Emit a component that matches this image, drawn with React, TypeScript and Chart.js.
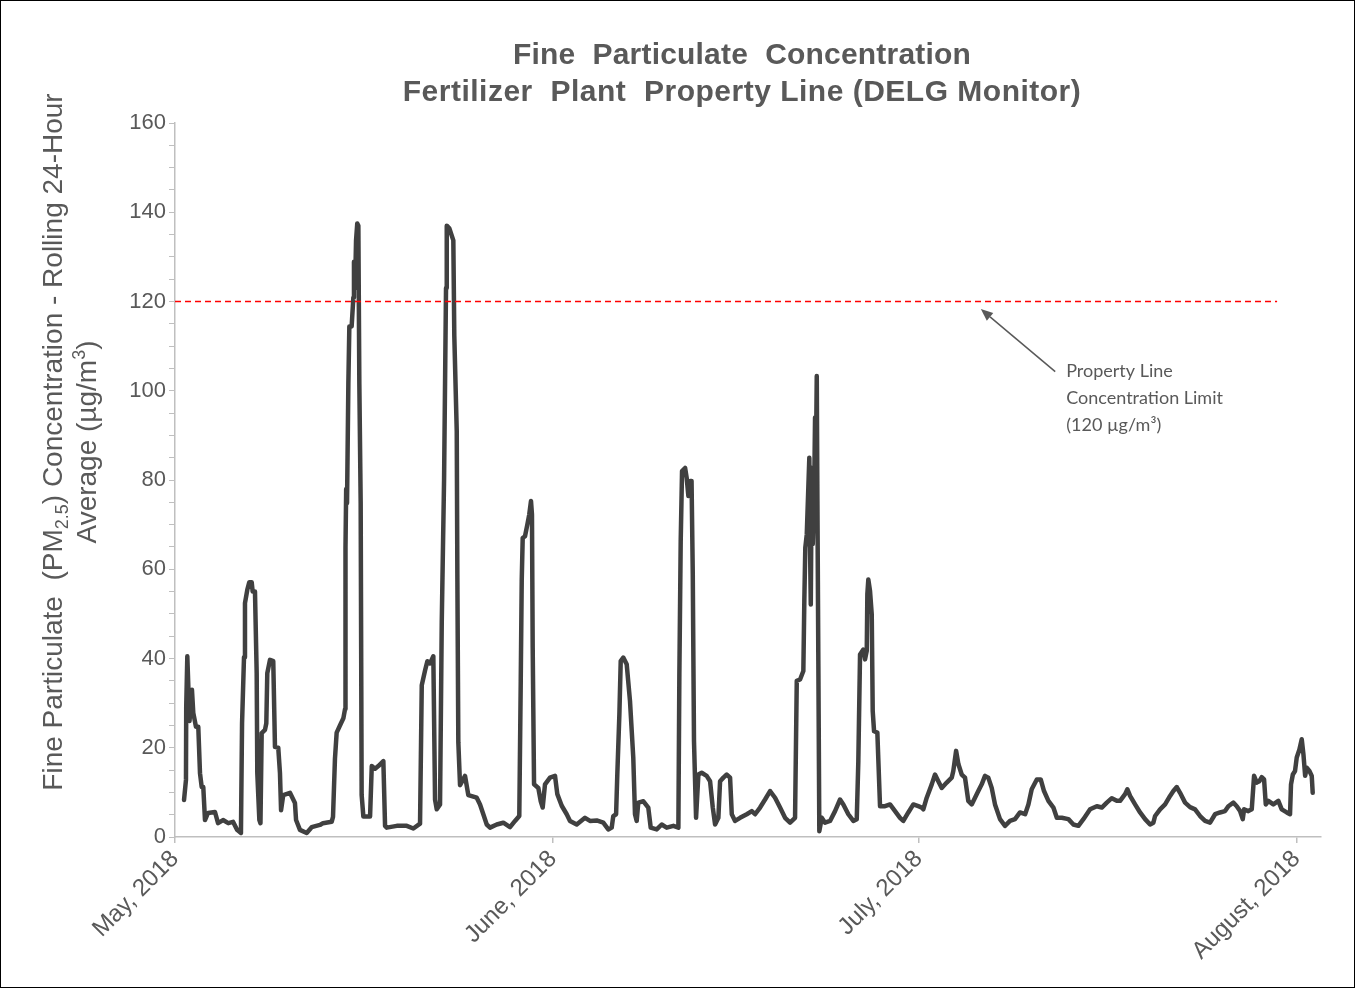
import React, { useEffect, useRef } from "react";
import { Chart, registerables } from "chart.js";

Chart.register(...registerables);

// ---------- data ----------
const chartTitle = ["Fine  Particulate  Concentration", "Fertilizer  Plant  Property Line (DELG Monitor)"];
const yTitleLine1 = [
  { text: "Fine Particulate  (PM", kind: "normal" },
  { text: "2.5", kind: "sub" },
  { text: ") Concentration - Rolling 24-Hour", kind: "normal" },
];
const yTitleLine2 = [
  { text: "Average (µg/m", kind: "normal" },
  { text: "3", kind: "sup" },
  { text: ")", kind: "normal" },
];
const monthTickDays = [0, 31, 61, 92];
const monthTickLabels = ["May, 2018", "June, 2018", "July, 2018", "August, 2018"];
const yMin = 0;
const yMax = 160;
const yMinorStep = 5;
const yMajorStep = 20;
const xMaxDay = 94;

const limitValue = 120;
const limitDays = [0, 90.4];
const annotationLines = ["Property Line", "Concentration Limit", "(120 µg/m³)"];
const arrowTip = { day: 66.1, value: 118.3 };
const arrowTail = { day: 72.2, value: 104.3 };
const annotationAnchor = { day: 73.1, value: 104.3 };

// days since May 1, 2018 (rolling 24-hour average, µg/m³)
const days = [
  0.74, 0.9, 0.92, 1.01, 1.19, 1.39, 1.5, 1.72, 1.91, 2.05,
  2.19, 2.32, 2.46, 2.71, 3.28, 3.53, 3.94, 4.37, 4.76, 5.09,
  5.41, 5.5, 5.66, 5.74, 5.93, 6.09, 6.29, 6.37, 6.56, 6.7,
  6.75, 6.92, 7.01, 7.11, 7.38, 7.49, 7.57, 7.79, 8.06, 8.2,
  8.47, 8.61, 8.7, 8.88, 9.43, 9.84, 9.93, 10.25, 10.8, 11.21,
  11.89, 12.14, 12.85, 12.96, 13.12, 13.26, 13.53, 13.81, 13.95, 13.97,
  14.0, 14.04, 14.11, 14.22, 14.3, 14.49, 14.63, 14.68, 14.77, 14.85,
  14.95, 15.04, 15.12, 15.23, 15.31, 15.45, 16.0, 16.14, 16.41, 16.68,
  17.09, 17.23, 17.37, 18.19, 19.01, 19.55, 20.1, 20.24, 20.51, 20.7,
  20.92, 21.19, 21.33, 21.47, 21.74, 21.88, 22.07, 22.23, 22.29, 22.5,
  22.83, 22.91, 23.11, 23.16, 23.24, 23.38, 23.79, 24.06, 24.75, 25.02,
  25.29, 25.57, 25.84, 26.39, 26.93, 27.48, 27.89, 28.24, 28.36, 28.44,
  28.52, 28.71, 28.9, 29.06, 29.2, 29.28, 29.34, 29.45, 29.8, 30.0,
  30.16, 30.35, 30.76, 31.17, 31.36, 31.72, 32.13, 32.4, 32.95, 33.63,
  34.04, 34.59, 35.13, 35.54, 35.82, 35.95, 36.18, 36.28, 36.45, 36.56,
  36.77, 37.05, 37.32, 37.59, 37.73, 37.87, 38.0, 38.42, 38.82, 39.02,
  39.51, 39.92, 40.33, 40.88, 41.29, 41.37, 41.48, 41.59, 41.84, 41.97,
  42.11, 42.25, 42.37, 42.47, 42.57, 42.74, 42.93, 43.2, 43.61, 43.89,
  44.11, 44.3, 44.57, 44.71, 44.98, 45.26, 45.53, 45.67, 45.94, 46.35,
  46.9, 47.31, 47.58, 47.99, 48.4, 48.81, 49.22, 49.63, 50.04, 50.45,
  50.86, 51.0, 51.27, 51.54, 51.62, 51.7, 51.82, 52.03, 52.09, 52.15,
  52.23, 52.31, 52.42, 52.5, 52.57, 52.64, 52.69, 52.77, 52.85, 53.05,
  53.32, 53.73, 54.14, 54.55, 54.82, 55.23, 55.64, 55.92, 56.05, 56.19,
  56.46, 56.6, 56.74, 56.79, 56.87, 57.01, 57.15, 57.23, 57.34, 57.61,
  57.83, 58.24, 58.65, 59.06, 59.47, 59.74, 60.15, 60.56, 60.97, 61.25,
  61.38, 61.66, 62.07, 62.34, 62.61, 62.89, 63.3, 63.71, 63.84, 64.07,
  64.26, 64.53, 64.8, 65.07, 65.35, 65.62, 65.89, 66.17, 66.44, 66.71,
  66.99, 67.26, 67.67, 68.08, 68.49, 68.9, 69.31, 69.73, 70.0, 70.27,
  70.69, 71.01, 71.28, 71.64, 72.05, 72.33, 72.74, 73.28, 73.69, 74.1,
  74.51, 75.06, 75.61, 76.02, 76.43, 76.84, 77.25, 77.52, 77.93, 78.12,
  78.34, 78.75, 79.16, 79.57, 79.98, 80.25, 80.39, 80.8, 81.21, 81.62,
  81.89, 82.17, 82.44, 82.85, 83.26, 83.67, 84.08, 84.49, 84.9, 85.31,
  85.72, 86.13, 86.4, 86.81, 87.09, 87.36, 87.58, 87.69, 88.04, 88.32,
  88.51, 88.73, 88.95, 89.14, 89.33, 89.47, 89.68, 90.09, 90.5, 90.78,
  91.19, 91.46, 91.54, 91.69, 91.87, 92.01, 92.23, 92.42, 92.56, 92.7,
  92.83, 93.05, 93.24, 93.32,
];

const pm25 = [
  8.3, 12.8, 29, 40.5, 26, 33, 27.8, 24.7, 24.7, 14.3,
  11.2, 11.2, 3.8, 5.4, 5.6, 3.1, 3.8, 3.1, 3.4, 1.6,
  0.9, 25.5, 40.3, 52.4, 55.4, 57.1, 57.1, 55, 55, 36.7,
  14.3, 3.8, 3.1, 23.3, 24, 25.5, 36.7, 39.7, 39.4, 20.2,
  20, 14.3, 6, 9.4, 9.9, 7.6, 3.8, 1.6, 0.9, 2.2,
  2.7, 3.1, 3.4, 4.5, 17.5, 23.4, 25, 26.6, 28.7, 58.7,
  65, 78, 74.8, 101.6, 114.4, 114.4, 120.9, 128.9, 123, 133.7,
  137.5, 137, 101.6, 74.8, 9.4, 4.6, 4.6, 15.9, 15.3, 15.9,
  17, 2.5, 2.1, 2.5, 2.5, 1.9, 3, 34, 37.3, 39.4,
  38.9, 40.5, 8.4, 6.2, 7.3, 48, 80, 123, 137, 136.4,
  133.7, 112.3, 90.9, 58.7, 21.2, 11.6, 13.7, 9.4, 8.8, 7.3,
  5.1, 2.8, 2.1, 2.8, 3.2, 2.2, 3.6, 4.7, 35, 57.4,
  67, 67.4, 70, 72.3, 75.3, 72.3, 42.4, 11.8, 11, 8,
  6.6, 11.8, 13.3, 13.7, 9.6, 7, 5.1, 3.6, 2.8, 4.3,
  3.6, 3.7, 3.2, 1.7, 2.1, 4.7, 5.1, 14, 27.5, 39.4,
  40.2, 38.7, 30.5, 17.8, 5.1, 3.6, 7.7, 8, 6.6, 2.1,
  1.7, 2.8, 2.1, 2.5, 2.1, 36.4, 66.3, 82, 82.7, 80.5,
  76.4, 79.8, 79.8, 58.9, 21.5, 4.3, 14, 14.4, 13.7, 12.5,
  6.6, 2.8, 4.3, 12.5, 13.3, 14, 13.3, 5.1, 3.6, 4.3,
  5.1, 5.8, 5.1, 6.6, 8.4, 10.3, 8.8, 6.6, 4.3, 3.2,
  4.3, 35, 35.3, 37.2, 52.9, 64.8, 67.8, 85, 64.8, 52.1,
  82.7, 65.6, 75.3, 94, 84.2, 103.3, 76.8, 39.4, 1.3, 4.3,
  3.2, 3.6, 5.8, 8.4, 7.3, 5.1, 3.6, 4, 17, 40.9,
  42, 39.8, 41.7, 54.4, 57.7, 55.1, 49.9, 28.2, 23.7, 23.4,
  6.9, 6.9, 7.3, 5.8, 4.3, 3.6, 5.5, 7.3, 6.9, 6.6,
  6.2, 8.8, 11.8, 14, 12.5, 11, 12.2, 13.3, 14.8, 19.3,
  16.3, 14, 13.3, 8.1, 7.3, 8.8, 10.3, 11.8, 13.7, 13.3,
  11, 7.3, 4, 2.5, 3.6, 4, 5.5, 5.1, 7.3, 10.7,
  12.9, 12.9, 10.3, 8.1, 6.6, 4.3, 4.3, 4, 2.8, 2.5,
  4, 6.2, 6.9, 6.6, 7.7, 8.7, 8.1, 8.1, 9.6, 10.7,
  9.2, 7.3, 5.5, 4, 2.8, 3.2, 4.7, 6.2, 7.3, 9.2,
  10.3, 11.2, 9.9, 7.7, 6.7, 6.2, 4.7, 3.6, 3.2, 5.1,
  5.5, 5.8, 6.9, 7.7, 6.9, 5.8, 4, 6.2, 5.8, 6.2,
  13.7, 12.2, 12.5, 13.4, 12.9, 7.3, 8.1, 7.3, 8.1, 6.2,
  5.5, 5.1, 11.8, 14, 14.8, 17.8, 19.6, 21.9, 18.5, 13.7,
  15.5, 14.8, 13.7, 9.9,
];

// ---------- styles ----------
const TEXT_GRAY = "#595959";
const AXIS_GRAY = "#bfbfbf";
const SANS = "'Liberation Sans', Arial, sans-serif";

const framePlugin = {
  id: "frame",
  beforeDraw(chart: any) {
    const ctx = chart.ctx;
    ctx.save();
    ctx.fillStyle = "#ffffff";
    ctx.fillRect(0, 0, chart.width, chart.height);
    ctx.restore();
  },
  afterDraw(chart: any) {
    const ctx = chart.ctx;
    ctx.save();
    ctx.strokeStyle = "#000000";
    ctx.lineWidth = 1;
    ctx.strokeRect(0.5, 0.5, chart.width - 2, chart.height - 2);
    ctx.restore();
  },
};

const titlePlugin = {
  id: "customTitle",
  afterDraw(chart: any) {
    const ctx = chart.ctx;
    const cx = (chart.chartArea.left + chart.chartArea.right) / 2 - 6;
    ctx.save();
    ctx.fillStyle = TEXT_GRAY;
    ctx.font = `bold 30px ${SANS}`;
    ctx.textAlign = "center";
    ctx.textBaseline = "alphabetic";
    ctx.letterSpacing = "0.2px";
    ctx.fillText(chartTitle[0], cx, 64);
    ctx.letterSpacing = "0.5px";
    ctx.fillText(chartTitle[1], cx, 101);
    ctx.restore();
  },
};

function drawRichRotated(ctx: any, segs: any[], baseX: number, centerY: number, size: number) {
  const small = Math.round(size * 0.64);
  const fontFor = (k: string) => `${k === "normal" ? size : small}px ${SANS}`;
  let total = 0;
  const widths = segs.map((s) => {
    ctx.font = fontFor(s.kind);
    const w = ctx.measureText(s.text).width;
    total += w;
    return w;
  });
  ctx.save();
  ctx.translate(baseX, centerY);
  ctx.rotate(-Math.PI / 2);
  ctx.textAlign = "left";
  ctx.textBaseline = "alphabetic";
  let x = -total / 2;
  segs.forEach((s, i) => {
    ctx.font = fontFor(s.kind);
    const dy = s.kind === "sub" ? size * 0.2 : s.kind === "sup" ? -size * 0.4 : 0;
    ctx.fillText(s.text, x, dy);
    x += widths[i];
  });
  ctx.restore();
}

const yTitlePlugin = {
  id: "yTitle",
  afterDraw(chart: any) {
    const ctx = chart.ctx;
    ctx.save();
    ctx.fillStyle = TEXT_GRAY;
    drawRichRotated(ctx, yTitleLine1, 62, 442, 28);
    drawRichRotated(ctx, yTitleLine2, 96, 442, 28);
    ctx.restore();
  },
};

const annotationPlugin = {
  id: "limitAnnotation",
  afterDatasetsDraw(chart: any) {
    const ctx = chart.ctx;
    const xs = chart.scales.x;
    const ys = chart.scales.y;
    const x1 = xs.getPixelForValue(arrowTail.day);
    const y1 = ys.getPixelForValue(arrowTail.value);
    const x2 = xs.getPixelForValue(arrowTip.day);
    const y2 = ys.getPixelForValue(arrowTip.value);
    const ang = Math.atan2(y2 - y1, x2 - x1);
    const headLen = 12;
    const headHalf = 5;
    const bx = x2 - headLen * Math.cos(ang);
    const by = y2 - headLen * Math.sin(ang);
    ctx.save();
    ctx.strokeStyle = TEXT_GRAY;
    ctx.fillStyle = TEXT_GRAY;
    ctx.lineWidth = 1.5;
    ctx.beginPath();
    ctx.moveTo(x1, y1);
    ctx.lineTo(bx, by);
    ctx.stroke();
    ctx.beginPath();
    ctx.moveTo(x2, y2);
    ctx.lineTo(bx + headHalf * Math.sin(ang), by - headHalf * Math.cos(ang));
    ctx.lineTo(bx - headHalf * Math.sin(ang), by + headHalf * Math.cos(ang));
    ctx.closePath();
    ctx.fill();

    const tx = xs.getPixelForValue(annotationAnchor.day);
    const ty = ys.getPixelForValue(annotationAnchor.value);
    ctx.font = "18px Lato, 'Open Sans', sans-serif";
    ctx.textAlign = "left";
    ctx.textBaseline = "middle";
    annotationLines.forEach((line, i) => ctx.fillText(line, tx, ty + i * 27));
    ctx.restore();
  },
};

export default function App() {
  const canvasRef = useRef<HTMLCanvasElement>(null);

  useEffect(() => {
    document.body.style.margin = "0";
    const canvas = canvasRef.current;
    if (!canvas) return;
    const series = days.map((d, i) => ({ x: d, y: pm25[i] }));
    const limit = limitDays.map((d) => ({ x: d, y: limitValue }));

    const chart = new Chart(canvas, {
      type: "line",
      data: {
        datasets: [
          {
            label: "PM2.5 rolling 24-hour average",
            data: series,
            borderColor: "#404040",
            borderWidth: 4.5,
            pointRadius: 0,
            tension: 0,
            fill: false,
            borderJoinStyle: "round",
            borderCapStyle: "round",
            order: 2,
          },
          {
            label: "Property line limit",
            data: limit,
            borderColor: "rgb(255, 0, 0)",
            backgroundColor: "rgb(255, 0, 0)",
            borderWidth: 1.5,
            borderDash: [6, 4],
            pointRadius: 0,
            fill: false,
            order: 1,
          },
        ],
      } as any,
      options: {
        responsive: false,
        animation: false,
        devicePixelRatio: 1,
        layout: { padding: { left: 0, top: 123, right: 35, bottom: 0 } },
        plugins: {
          legend: { display: false },
          tooltip: { enabled: false },
          title: { display: false },
          colors: { enabled: false },
        },
        scales: {
          x: {
            type: "linear",
            min: 0,
            max: xMaxDay,
            afterBuildTicks: (s: any) => {
              s.ticks = monthTickDays.map((v) => ({ value: v }));
            },
            afterFit: (s: any) => {
              s.height = 152;
            },
            ticks: {
              autoSkip: false,
              minRotation: 45,
              maxRotation: 45,
              padding: 2,
              color: TEXT_GRAY,
              font: { family: SANS, size: 24 },
              callback: (_v: any, i: number) => monthTickLabels[i],
            },
            grid: {
              display: true,
              drawOnChartArea: false,
              drawTicks: true,
              tickLength: 6,
              color: AXIS_GRAY,
              lineWidth: 1.5,
            },
            border: { display: true, color: AXIS_GRAY, width: 1.5 },
          },
          y: {
            type: "linear",
            min: yMin,
            max: yMax,
            afterBuildTicks: (s: any) => {
              const t = [];
              for (let v = yMin; v <= yMax; v += yMinorStep) t.push({ value: v });
              s.ticks = t;
            },
            afterFit: (s: any) => {
              s.width = 175;
            },
            ticks: {
              autoSkip: false,
              padding: 3,
              color: TEXT_GRAY,
              font: { family: SANS, size: 22 },
              callback: (v: any) => (Number(v) % yMajorStep === 0 ? String(v) : ""),
            },
            grid: {
              display: true,
              drawOnChartArea: false,
              drawTicks: true,
              tickLength: 6,
              color: AXIS_GRAY,
              lineWidth: 1,
            },
            border: { display: true, color: AXIS_GRAY, width: 1.5 },
          },
        },
      } as any,
      plugins: [framePlugin, titlePlugin, yTitlePlugin, annotationPlugin],
    });
    return () => chart.destroy();
  }, []);

  return (
    <canvas
      ref={canvasRef}
      width={1356}
      height={989}
      style={{ display: "block", width: "1356px", height: "989px" }}
    />
  );
}
